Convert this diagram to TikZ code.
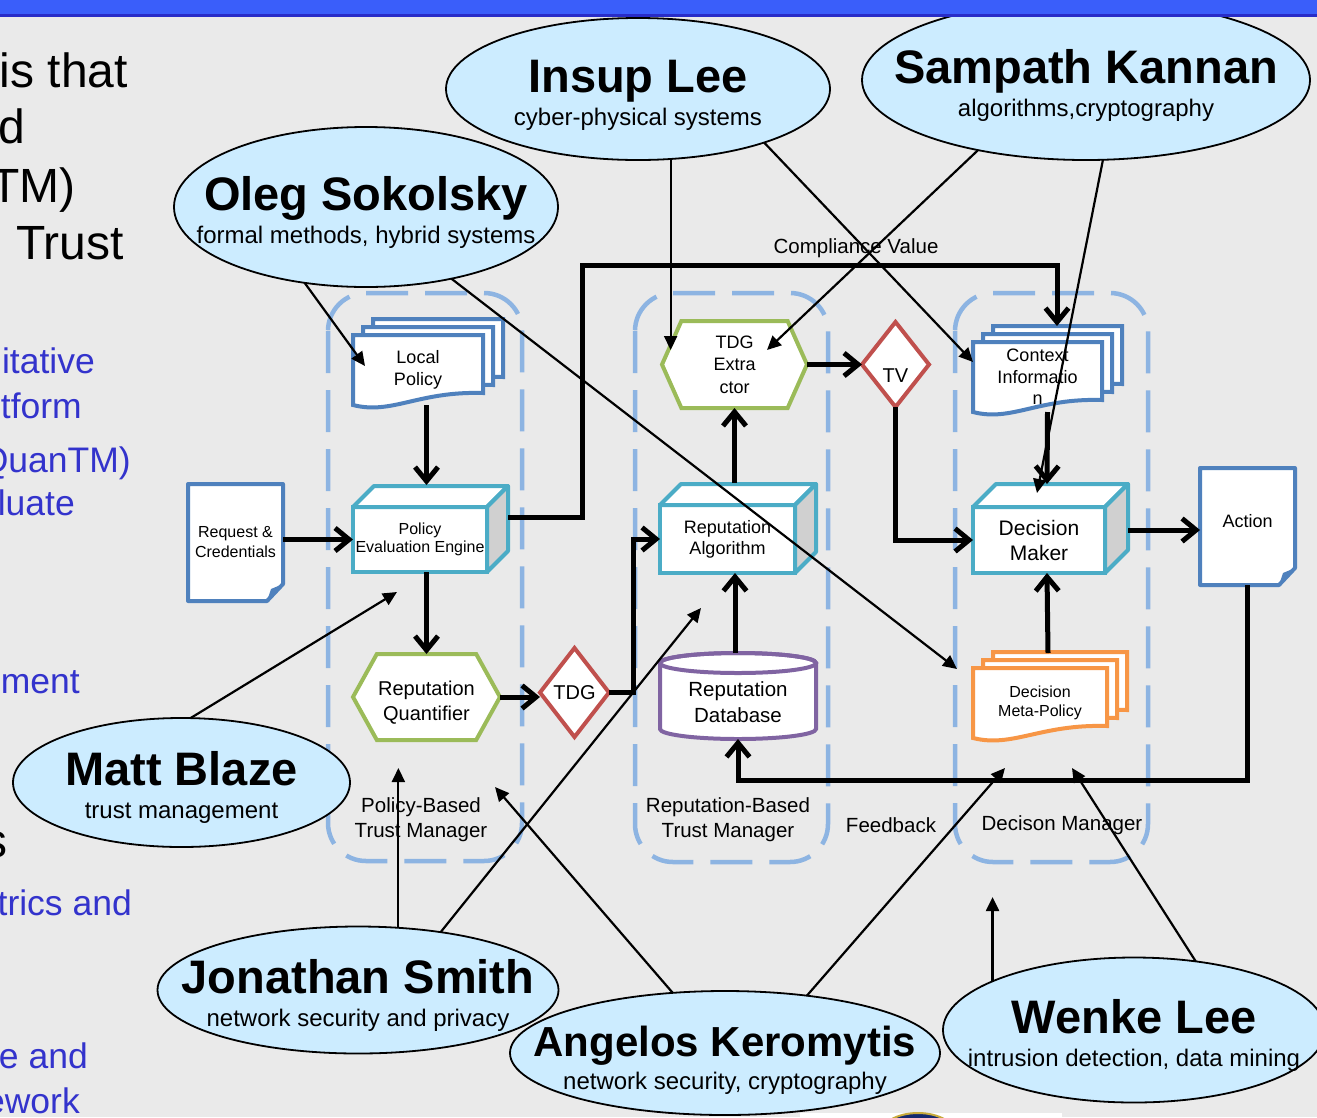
\documentclass[tikz,border=0pt]{standalone}
\usepackage{fontspec}
\setmainfont{Liberation Sans}
\usetikzlibrary{arrows.meta}
\usetikzlibrary{shapes.geometric}
\usetikzlibrary{shapes.symbols}

\definecolor{slidebg}{RGB}{234,234,234}
\definecolor{barblue}{RGB}{58,94,250}
\definecolor{barline}{RGB}{40,44,200}
\definecolor{slideblue}{RGB}{51,51,204}
\definecolor{groupblue}{RGB}{141,180,226}
\definecolor{docblue}{RGB}{79,129,189}
\definecolor{cubeteal}{RGB}{75,172,198}
\definecolor{cubeside}{RGB}{208,208,208}
\definecolor{hexgreen}{RGB}{155,187,89}
\definecolor{gatered}{RGB}{192,80,77}
\definecolor{dbpurple}{RGB}{128,100,162}
\definecolor{metaorange}{RGB}{247,150,70}
\definecolor{personfill}{RGB}{204,236,255}
\definecolor{logonavy}{RGB}{20,40,110}
\definecolor{logogold}{RGB}{200,170,60}

\newcommand{\fsz}[2]{\fontsize{#1}{#2}\selectfont}
% name line + field line inside a person bubble
\newcommand{\who}[3][47]{\rule{0pt}{40pt}{\fontsize{#1}{33}\selectfont\bfseries #2}\\#3\rule[-10pt]{0pt}{10pt}}
% three stacked sheets with a wavy bottom, front sheet top left at (#1,#2)
\newcommand{\pagestack}[4]{%
  \foreach \k in {2,1,0}{
    \draw[#4, line width=4pt, fill=white]
      ({#1+10*\k},{#2-8*\k}) -- ({#1+#3+10*\k},{#2-8*\k})
      -- ({#1+#3+10*\k},{#2+58-8*\k})
      .. controls ({#1+0.5*#3+10*\k},{#2+56-8*\k}) and ({#1+0.3*#3+10*\k},{#2+80-8*\k})
      .. ({#1+10*\k},{#2+70-8*\k}) -- cycle;
  }}
% sheet with a folded corner
\newcommand{\foldsheet}[4]{%
  \draw[docblue, line width=4pt, fill=white, line join=round]
    (#1,#2) -- ({#1+#3},#2) -- ({#1+#3},{#2+#4-17}) -- ({#1+#3-16},{#2+#4}) -- (#1,{#2+#4}) -- cycle;
  \fill[docblue] ({#1+#3},{#2+#4-17}) -- ({#1+#3-12},{#2+#4-12}) -- ({#1+#3-16},{#2+#4}) -- cycle;}
% top and side faces of a box node
\newcommand{\cubefaces}[2]{%
  \draw[cubeteal, line width=4pt, fill=white, line join=round]
    (#1.north west) -- ++(#2,-#2) -- ([xshift=#2pt,yshift=#2pt]#1.north east) -- (#1.north east) -- cycle;
  \draw[cubeteal, line width=4pt, fill=cubeside, line join=round]
    (#1.north east) -- ++(#2,-#2) -- ([xshift=#2pt,yshift=#2pt]#1.south east) -- (#1.south east) -- cycle;}

\begin{document}
\begin{tikzpicture}[x=1pt, y=-1pt,
  flow/.style={line width=5pt, -{Straight Barb[length=14pt,width=23pt]}},
  link/.style={line width=2.2pt, -{Triangle[length=14pt,width=13pt]}},
  tmbox/.style={draw=groupblue, line width=4.5pt, rounded corners=38pt, dash pattern=on 42pt off 17pt},
  engine/.style={rectangle, draw=cubeteal, fill=white, line width=4pt, inner sep=0pt, outer sep=0pt, align=center},
  hexa/.style={signal, signal to=west and east, draw=hexgreen, fill=white, line width=4pt, inner sep=0pt, outer sep=0pt, align=center},
  gate/.style={diamond, draw=gatered, fill=white, line width=4pt, inner sep=0pt, outer sep=0pt},
  blank/.style={inner sep=0pt, outer sep=0pt, align=center},
  lbl/.style={font=\fsz{20.5}{25}, align=center, inner sep=0pt},
  person/.style={ellipse, draw=black, fill=personfill, line width=1.8pt, inner sep=0pt, outer sep=0pt},
  whotext/.style={font=\fsz{24}{33}, align=center, inner sep=0pt, yshift=-4.5pt},
  slidetext/.style={font=\fsz{48}{50}, inner sep=0pt, anchor=base east},
  bluetext/.style={font=\fsz{35.5}{40}, text=slideblue, inner sep=0pt, anchor=base east}]

\useasboundingbox (0,0) rectangle (1317,1117);
\fill[slidebg] (0,0) rectangle (1317,1117);

% slide text behind the picture
\foreach \x/\y/\t [count=\i] in {128/87/is that, 25/143/d, 76/202/TM), 124/259/Trust, 8/857/s}
  \node[slidetext] (black\i) at (\x,\y) {\t};
\foreach \x/\y/\t [count=\i] in {95/373/itative, 82/418/tform, 131/472/QuanTM), 75/515/luate,
    80/693/ment, 132/915/trics and, 88/1068/e and, 80/1113/ework}
  \node[bluetext] (blue\i) at (\x,\y) {\t};

% trust managers
\draw[tmbox] (328,293) rectangle (522,861);
\draw[tmbox] (635,293) rectangle (828,862);
\draw[tmbox] (955,293) rectangle (1148,862);
\node[lbl] (pbtm) at (421,820) {Policy-Based\\Trust Manager};
\node[lbl] (rbtm) at (728,820) {Reputation-Based\\Trust Manager};
\node[lbl, anchor=base] (fb) at (891,832) {Feedback};
\node[lbl, anchor=base] (dmgr) at (1062,830) {Decison Manager};
\node[lbl, anchor=base] (cv) at (856,253) {Compliance Value};

\fill[white] (800,1113) rectangle (1062,1117);
\draw[logogold, line width=2pt, fill=logonavy] (918,1135) ellipse [x radius=38pt, y radius=22pt];

% policy side
\foldsheet{188}{484}{95}{117}
\node[blank, minimum width=95pt, minimum height=117pt, font=\fsz{16}{20}] (req) at (235.5,542.5) {Request \&\\Credentials};
\pagestack{353}{335}{130}{docblue}
\node[blank, minimum width=130pt, minimum height=70pt, font=\fsz{18}{21.5}] (lp) at (418,370) {Local\\Policy};
\node[engine, minimum width=134pt, minimum height=65pt, font=\fsz{16}{18}] (pee) at (420,539.5) {Policy\\Evaluation Engine};
\cubefaces{pee}{21}
\node[hexa, minimum width=147pt, minimum height=86pt, signal pointer angle=122, font=\fsz{20}{25}] (rq) at (426.5,697) {\rule{0pt}{25pt}Reputation\\Quantifier};
\node[gate, minimum width=69pt, minimum height=89pt, font=\fsz{20}{24}] (tdg) at (574.5,692.5) {TDG};

% reputation side
\node[engine, minimum width=135pt, minimum height=68pt, font=\fsz{18}{21}] (ra) at (727.5,539) {Reputation\\Algorithm};
\cubefaces{ra}{21}
\node[hexa, minimum width=145pt, minimum height=87pt, signal pointer angle=132, font=\fsz{18}{22.5}] (tdgx) at (734.5,364.5) {TDG\\Extra\\ctor};
\node[gate, minimum width=67pt, minimum height=85pt, font=\fsz{20}{24}] (tv) at (895.5,364.5) {\rule{0pt}{36pt}TV};
\draw[dbpurple, line width=4pt, fill=white] (660,663) -- (660,729)
  arc[start angle=180, end angle=360, x radius=78pt, y radius=10pt] -- (816,663)
  arc[start angle=0, end angle=180, x radius=78pt, y radius=10pt] -- cycle;
\draw[dbpurple, line width=4pt] (738,663) ellipse [x radius=78pt, y radius=10pt];
\node[blank, minimum width=156pt, minimum height=86pt, font=\fsz{20.5}{26}] (rdb) at (738,696) {\rule{0pt}{28pt}Reputation\\Database};

% decision side
\pagestack{973}{342}{129}{docblue}
\node[blank, minimum width=129pt, minimum height=70pt, font=\fsz{18}{21.5}] (ci) at (1037.5,377) {Context\\Informatio\\n};
\node[engine, minimum width=132pt, minimum height=66pt, font=\fsz{21}{25}] (dm) at (1039,540) {Decision\\Maker};
\cubefaces{dm}{23}
\pagestack{973}{668}{134}{metaorange}
\node[blank, minimum width=134pt, minimum height=70pt, font=\fsz{16}{19}] (mp) at (1040,703) {Decision\\Meta-Policy};
\foldsheet{1200}{468}{95}{117}
\node[blank, minimum width=95pt, minimum height=117pt, font=\fsz{18}{22}] (act) at (1247.5,526.5) {Action\rule[-12pt]{0pt}{12pt}};

% data flow
\draw[flow] (lp.south -| rq.north) -- ([yshift=22pt]pee.north -| rq.north);
\draw[flow] (req.east |- pee.west) -- (pee.west);
\draw[flow] (rq.north |- pee.south) -- (rq.north);
\draw[flow] (rq.east) -- (rq.east -| tdg.west);
\draw[flow] (tdg.east) -- ++(24,0) |- (ra.west);
\draw[flow] ([xshift=21pt,yshift=22.5pt]pee.east) -- ++(74,0) -- ++(0,-252) -| ([xshift=19.5pt,yshift=16pt]ci.north);
\draw[flow] ([yshift=22pt]ra.north -| tdgx.south) -- (tdgx.south);
\draw[flow] ([xshift=-3pt]rdb.north) -- ([xshift=-3pt]rdb.north |- ra.south);
\draw[flow] (tdgx.east) -- (tv.west);
\draw[flow] (tv.south) |- (dm.west);
\draw[flow] ([xshift=10pt]ci.south) -- ([xshift=8pt,yshift=23pt]dm.north);
\draw[flow] ([xshift=8pt,yshift=15pt]mp.north) -- ([xshift=8pt]dm.south);
\draw[flow] ([xshift=23pt,yshift=10pt]dm.east) -- ([yshift=-3.5pt]act.west);
\draw[flow] (act.south) -- ++(0,195) -| (rdb.south);

% people
\node[person, minimum width=384pt, minimum height=160pt, label={[whotext]center:{\who{Oleg Sokolsky}{formal methods, hybrid systems}}}] (oleg) at (366,207) {};
\node[person, minimum width=384pt, minimum height=142pt, label={[whotext]center:{\who{Insup Lee}{cyber-physical systems}}}] (insup) at (638,89) {};
\node[person, minimum width=448pt, minimum height=160pt, label={[whotext]center:{\who{Sampath Kannan}{algorithms,cryptography}}}] (sampath) at (1086,80) {};
\node[person, minimum width=337pt, minimum height=129pt, label={[whotext]center:{\who{Matt Blaze}{trust management}}}] (matt) at (181.5,782.5) {};
\node[person, minimum width=401pt, minimum height=127pt, label={[whotext]center:{\who{Jonathan Smith}{network security and privacy}}}] (jonathan) at (358,990) {};
\node[person, minimum width=430pt, minimum height=124pt, label={[whotext]center:{\who[42]{Angelos Keromytis}{network security, cryptography}}}] (angelos) at (725,1053) {};
\node[person, minimum width=382pt, minimum height=145pt, label={[whotext]center:{\who{Wenke Lee}{intrusion detection, data mining}}}] (wenke) at (1134,1030) {};

% where each person points
\coordinate (lpTip) at (365,366);
\coordinate (mpTip) at (957,669);
\coordinate (tdgxTipA) at (670,350);
\coordinate (ciTip) at (973,362);
\coordinate (tdgxTipB) at (767,350);
\coordinate (dmTip) at (1037,493);
\coordinate (peeTip) at (397,592);
\coordinate (pbTipA) at (398,768);
\coordinate (raTip) at (701,608);
\coordinate (pbTipB) at (495,787);
\coordinate (dmgrTipA) at (1005,768);
\coordinate (dmgrTipB) at (990,897);
\coordinate (dmgrTipC) at (1072,768);

\draw[link] (oleg.-129) -- (lpTip);
\draw[link] (oleg.-40) -- (mpTip);
\draw[link] (insup.-65.4) -- (insup.-65.4 |- tdgxTipA);
\draw[link] (insup.-23) -- (ciTip);
\draw[link] (sampath.-147) -- (tdgxTipB);
\draw[link] (sampath.-78.7) -- (dmTip);
\draw[link] (matt.82.5) -- (peeTip);
\draw[link] (jonathan.57.3) -- (jonathan.57.3 |- pbTipA);
\draw[link] (jonathan.35.6) -- (raTip);
\draw[link] (angelos.131.6) -- (pbTipB);
\draw[link] (angelos.35.3) -- (dmgrTipA);
\draw[link] (wenke.161.7) -- (wenke.161.7 |- dmgrTipB);
\draw[link] (wenke.48.8) -- (dmgrTipC);

\fill[barblue] (0,0) rectangle (1317,14);
\fill[barline] (0,14) rectangle (1317,16.5);
\end{tikzpicture}
\end{document}
